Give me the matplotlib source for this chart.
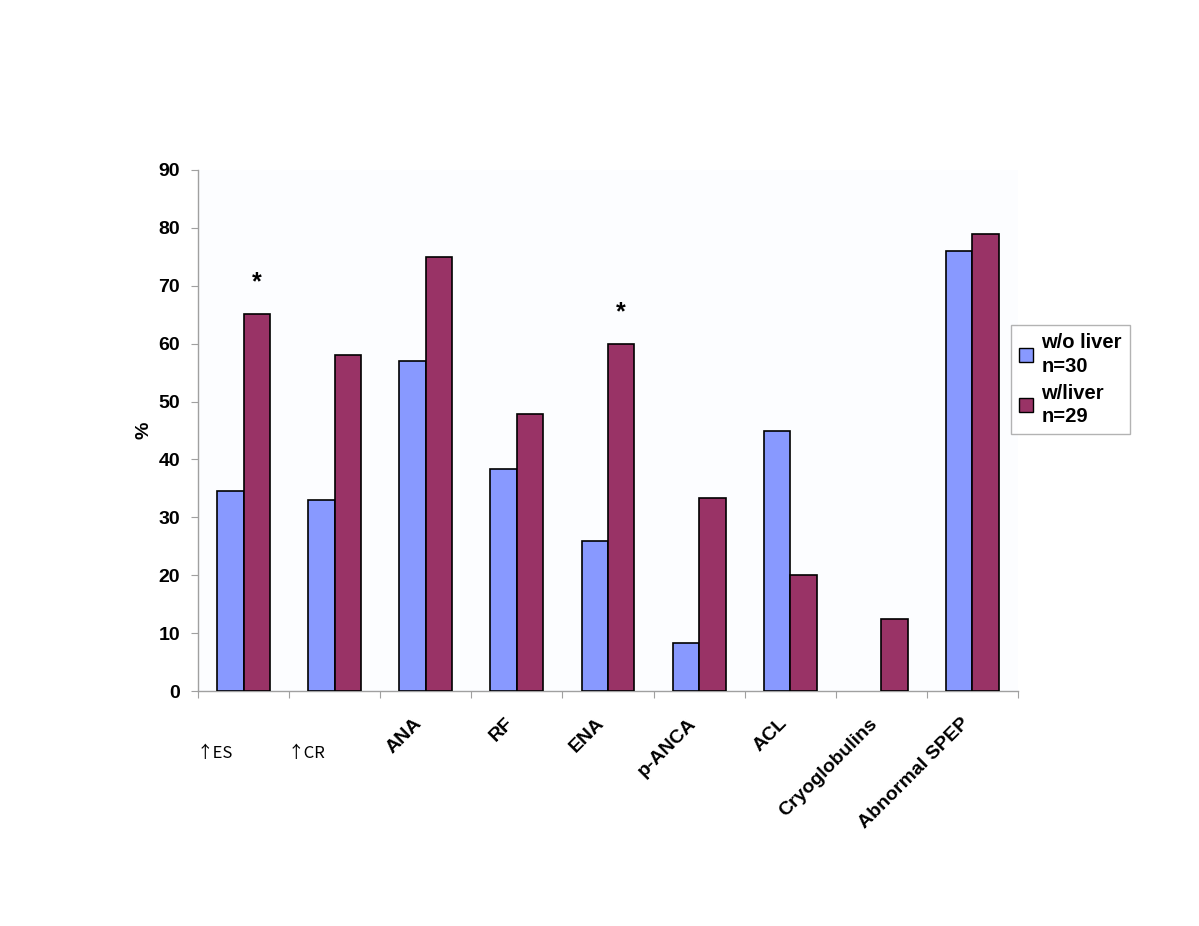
import matplotlib
matplotlib.use("Agg")
import matplotlib.pyplot as plt
import numpy as np
from matplotlib.patches import Patch
import matplotlib.transforms as mtransforms

categories = ["\u2191ES", "\u2191CR", "ANA", "RF", "ENA", "p-ANCA", "ACL", "Cryoglobulins", "Abnormal SPEP"]
without_liver = [34.5, 33.0, 57.0, 38.3, 25.9, 8.3, 44.9, 0.0, 76.0]
with_liver = [65.2, 58.0, 75.0, 47.8, 60.0, 33.3, 20.0, 12.5, 79.0]
series_labels = ["w/o liver\nn=30", "w/liver\nn=29"]
star_categories = ["\u2191ES", "ENA"]
yticks = [0, 10, 20, 30, 40, 50, 60, 70, 80, 90]

blue = "#8899FF"
red = "#993366"
grid_gray = "#A0A0A0"

plt.rcParams['font.family'] = ['Liberation Sans', 'DejaVu Sans']

fig = plt.figure(figsize=(11.99, 9.26), dpi=100)
ax = fig.add_axes([198/1199, 1-691/926, (1018-198)/1199, (691-170)/926])
ax.set_facecolor("#FCFDFF")

x = np.arange(len(categories))
w = 0.29
b1 = ax.bar(x - w/2, without_liver, w, color=blue, edgecolor="black", linewidth=1.2, zorder=3)
ax.bar(x + w/2, with_liver, w, color=red, edgecolor="black", linewidth=1.2, zorder=3)
for rect, v in zip(b1, without_liver):
    if v == 0:
        rect.set_visible(False)

ax.set_xlim(-0.5, len(categories) - 0.5)
ax.set_ylim(0, 90)
ax.set_yticks(yticks)
ax.set_yticklabels([str(v) for v in yticks], fontsize=14, fontweight='bold')
ax.tick_params(axis='y', length=5, color=grid_gray, pad=8)

# x ticks at category boundaries
ax.set_xticks(np.arange(len(categories) + 1) - 0.5)
ax.set_xticklabels([])
ax.tick_params(axis='x', length=5, color=grid_gray, direction='out')

for s in ['top', 'right']:
    ax.spines[s].set_visible(False)
for s in ['left', 'bottom']:
    ax.spines[s].set_color(grid_gray)
    ax.spines[s].set_linewidth(1.0)

# category labels
trans = mtransforms.blended_transform_factory(ax.transData, ax.transAxes)
for i, c in enumerate(categories):
    if c.startswith("\u2191"):
        ax.text(i - 0.52, -0.12, c, transform=trans, ha='left', va='center',
                fontsize=12, family=['Noto Sans CJK JP', 'DejaVu Sans'])
    else:
        ax.text(i + 0.0, -0.046, c, transform=trans, ha='right', va='top',
                rotation=45, fontsize=14, fontweight='bold')

# significance stars
for c in star_categories:
    i = categories.index(c)
    ax.text(i + w/2, with_liver[i] + 3.3, "*", ha='center', va='bottom',
            fontsize=18, fontweight='bold')

ax.set_ylabel("%", fontsize=14, fontweight='bold', labelpad=4)

handles = [Patch(facecolor=blue, edgecolor='black', linewidth=1.0),
           Patch(facecolor=red, edgecolor='black', linewidth=1.0)]
leg = fig.legend(handles, series_labels, loc='upper left',
                 bbox_to_anchor=(1011/1199, 1-325/926),
                 prop={'size': 14.5, 'weight': 'bold'}, frameon=True, fancybox=False,
                 edgecolor=grid_gray, handlelength=0.7, handleheight=0.7,
                 handletextpad=0.4, labelspacing=0.4, borderpad=0.4, borderaxespad=0)
leg.get_frame().set_linewidth(1.0)
for t in leg.get_texts():
    t.set_linespacing(1.3)

fig.savefig("out.png", dpi=100)
